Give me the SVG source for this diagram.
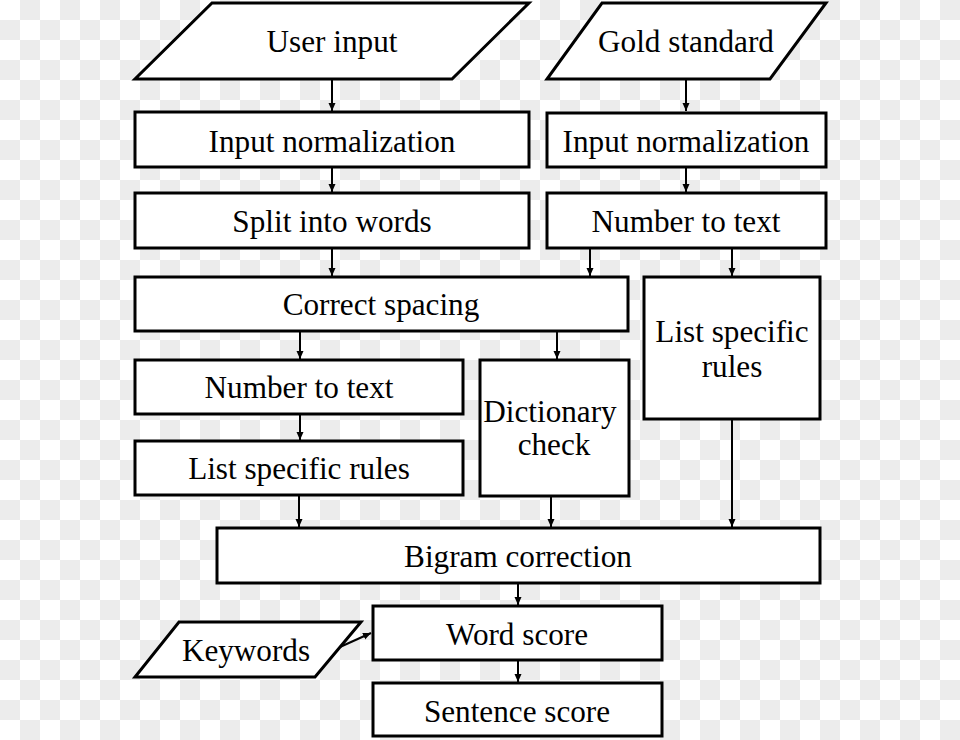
<svg xmlns="http://www.w3.org/2000/svg" width="960" height="740" viewBox="0 0 960 740">
<style>
.box{fill:#fff;stroke:#000;stroke-width:3;stroke-linejoin:miter}
.t{font-family:"Liberation Serif","Times New Roman",serif;font-size:31.2px;fill:#000;text-anchor:middle}
.c{stroke:#000;stroke-width:2;fill:none}
</style>
<defs>
<pattern id="chk" width="40" height="40" patternUnits="userSpaceOnUse">
<rect width="40" height="40" fill="#fff"/>
<rect x="20" y="0" width="20" height="20" fill="#ececec"/>
<rect x="0" y="20" width="20" height="20" fill="#ececec"/>
</pattern>
<marker id="ah" markerUnits="userSpaceOnUse" markerWidth="9" markerHeight="8" refX="8" refY="3.5" orient="auto">
<path d="M0,0 L8,3.5 L0,7 z" fill="#000"/>
</marker>
</defs>
<rect width="960" height="740" fill="url(#chk)"/>
<g id="connectors">
<line class="c" x1="332" y1="80" x2="332" y2="111" marker-end="url(#ah)"/>
<line class="c" x1="686" y1="80" x2="686" y2="111" marker-end="url(#ah)"/>
<line class="c" x1="332" y1="167" x2="332" y2="192" marker-end="url(#ah)"/>
<line class="c" x1="686" y1="167" x2="686" y2="192" marker-end="url(#ah)"/>
<line class="c" x1="332" y1="248" x2="332" y2="276" marker-end="url(#ah)"/>
<line class="c" x1="590" y1="248" x2="590" y2="276" marker-end="url(#ah)"/>
<line class="c" x1="732" y1="248" x2="732" y2="276" marker-end="url(#ah)"/>
<line class="c" x1="300" y1="331" x2="300" y2="359" marker-end="url(#ah)"/>
<line class="c" x1="557" y1="331" x2="557" y2="359" marker-end="url(#ah)"/>
<line class="c" x1="300" y1="414" x2="300" y2="440" marker-end="url(#ah)"/>
<line class="c" x1="299" y1="495" x2="299" y2="527" marker-end="url(#ah)"/>
<line class="c" x1="551" y1="496" x2="551" y2="527" marker-end="url(#ah)"/>
<line class="c" x1="732" y1="419" x2="732" y2="527" marker-end="url(#ah)"/>
<line class="c" x1="518" y1="583" x2="518" y2="605" marker-end="url(#ah)"/>
<line class="c" x1="518" y1="660" x2="518" y2="682" marker-end="url(#ah)"/>
<line class="c" x1="340" y1="647" x2="371" y2="633" marker-end="url(#ah)"/>
</g>
<g id="user-input">
<polygon class="box" points="212,3 529,3 452,79 135,79"/>
<text class="t" x="332" y="52">User input</text>
</g>
<g id="gold-standard">
<polygon class="box" points="602,3 826,3 770,79 547,79"/>
<text class="t" x="686" y="52">Gold standard</text>
</g>
<g id="input-norm-left">
<rect class="box" x="135" y="112" width="394" height="55"/>
<text class="t" x="332" y="152">Input normalization</text>
</g>
<g id="input-norm-right">
<rect class="box" x="547" y="113" width="279" height="54"/>
<text class="t" x="686" y="152">Input normalization</text>
</g>
<g id="split-words">
<rect class="box" x="135" y="193" width="394" height="55"/>
<text class="t" x="332" y="232">Split into words</text>
</g>
<g id="number-text-right">
<rect class="box" x="547" y="193" width="279" height="55"/>
<text class="t" x="686" y="232">Number to text</text>
</g>
<g id="correct-spacing">
<rect class="box" x="135" y="277" width="493" height="54"/>
<text class="t" x="381" y="315">Correct spacing</text>
</g>
<g id="list-rules-right">
<rect class="box" x="644" y="277" width="176" height="142"/>
<text class="t" x="732" y="342">List specific</text>
<text class="t" x="732" y="377">rules</text>
</g>
<g id="number-text-left">
<rect class="box" x="135" y="360" width="328" height="54"/>
<text class="t" x="299" y="398">Number to text</text>
</g>
<g id="list-rules-left">
<rect class="box" x="135" y="441" width="328" height="54"/>
<text class="t" x="299" y="479">List specific rules</text>
</g>
<g id="dictionary-check">
<rect class="box" x="480" y="360" width="149" height="136"/>
<text class="t" x="550" y="422">Dictionary</text>
<text class="t" x="554" y="455">check</text>
</g>
<g id="bigram">
<rect class="box" x="217" y="528" width="603" height="55"/>
<text class="t" x="518" y="567">Bigram correction</text>
</g>
<g id="keywords">
<polygon class="box" points="179,622 361,622 315,677 135,677"/>
<text class="t" x="246" y="661">Keywords</text>
</g>
<g id="word-score">
<rect class="box" x="373" y="606" width="289" height="54"/>
<text class="t" x="517" y="645">Word score</text>
</g>
<g id="sentence-score">
<rect class="box" x="373" y="683" width="289" height="53"/>
<text class="t" x="517" y="722">Sentence score</text>
</g>
</svg>
